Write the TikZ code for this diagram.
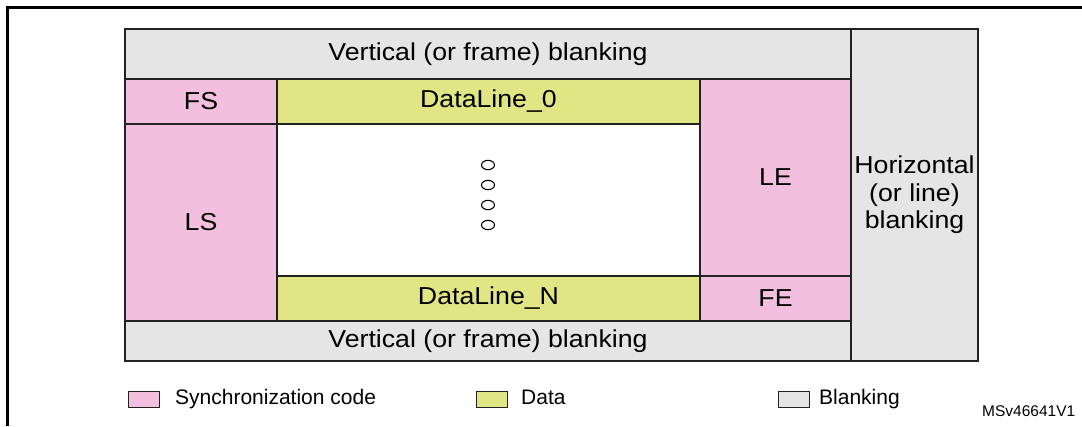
\documentclass[tikz,border=0pt]{standalone}
\usepackage{fontspec}
\setmainfont{Liberation Sans}
\newfontfamily\bigf[FakeStretch=1.09]{Liberation Sans}
\definecolor{syncpink}{HTML}{F2BFDF}
\definecolor{datayel}{HTML}{E0E684}
\definecolor{blankgray}{HTML}{E5E5E5}
\definecolor{edgegray}{HTML}{222222}
\begin{document}
\begin{tikzpicture}[x=1pt,y=-1pt,
  cell/.style={draw=edgegray, line width=1.2pt, inner sep=0pt, outer sep=0pt,
    font=\bigf\fontsize{24.5}{27.5}\selectfont, align=center},
  legsq/.style={draw=edgegray, line width=1pt, inner sep=0pt, outer sep=0pt,
    minimum width=31pt, minimum height=16pt},
  legtxt/.style={anchor=base west, inner sep=0pt, font=\fontsize{21}{24}\selectfont},
  dotmark/.style={draw=black, line width=1.1pt}]
\useasboundingbox (0,0) rectangle (1082,426);
% outer frame
\draw[line width=2.5pt] (7.5,426) -- (7.5,7.5) -- (1082,7.5);
% cells
\node[cell, fill=blankgray, minimum width=726pt, minimum height=50pt] (vtop) at (488,54) {Vertical (or frame) blanking};
\node[cell, fill=blankgray, minimum width=127pt, minimum height=332pt] (hblank) at (914.5,195) {Horizontal\\(or line)\\blanking};
\node[cell, fill=syncpink, minimum width=152pt, minimum height=45pt] (fs) at (201,101.5) {FS};
\node[cell, fill=datayel, minimum width=423pt, minimum height=45pt] (dl0) at (488.5,101.5) {DataLine\_0};
\node[cell, fill=syncpink, minimum width=151pt, minimum height=197pt] (le) at (775.5,177.5) {LE};
\node[cell, fill=syncpink, minimum width=152pt, minimum height=197pt] (ls) at (201,222.5) {LS};
\node[cell, fill=white, minimum width=423pt, minimum height=152pt] (mid) at (488.5,200) {};
\node[cell, fill=datayel, minimum width=423pt, minimum height=45pt] (dln) at (488.5,298.5) {DataLine\_N};
\node[cell, fill=syncpink, minimum width=151pt, minimum height=45pt] (fe) at (775.5,298.5) {FE};
\node[cell, fill=blankgray, minimum width=726pt, minimum height=40pt] (vbot) at (488,341) {Vertical (or frame) blanking};
% dots
\foreach \yy in {165,185,205,225}
  \draw[dotmark] (488,\yy) ellipse [x radius=6.5, y radius=4.7];
% legend
\node[legsq, fill=syncpink] (lgsync) at (143.5,399) {};
\node[legtxt] (lgsynctxt) at (175,404) {Synchronization code};
\node[legsq, fill=datayel] (lgdata) at (491.5,399) {};
\node[legtxt] (lgdatatxt) at (521,404) {Data};
\node[legsq, fill=blankgray] (lgblank) at (794,399.5) {};
\node[legtxt] (lgblanktxt) at (819,404) {Blanking};
\node[anchor=base west, inner sep=0pt, font=\fontsize{15.5}{18}\selectfont] (ref) at (982,416) {MSv46641V1};
\end{tikzpicture}
\end{document}
